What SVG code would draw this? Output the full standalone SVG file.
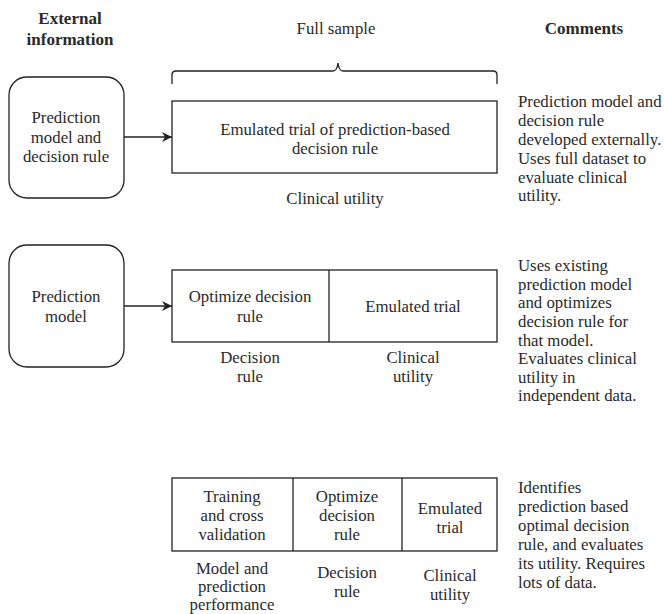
<svg xmlns="http://www.w3.org/2000/svg" width="664" height="614" viewBox="0 0 664 614">
<defs>
<marker id="arr" viewBox="0 0 10 10" refX="10" refY="5" markerWidth="10" markerHeight="10" markerUnits="userSpaceOnUse" orient="auto">
<path d="M0,0 L10,5 L0,10 L3,5 z" fill="#222"/>
</marker>
<style>
.c{text-anchor:middle}
.b{font-weight:bold}
.box{fill:#fff;stroke:#222;stroke-width:1.3}
.ln{fill:none;stroke:#222;stroke-width:1.3}
</style>
</defs>
<rect width="664" height="614" fill="#fff"/>
<g id="headers" font-family="Liberation Serif, serif" font-size="16.8" fill="#2a2a2a">
<text class="c b" x="70" y="24" font-size="17">External</text>
<text class="c b" x="70" y="45" font-size="17">information</text>
<text class="c" x="336" y="34">Full sample</text>
<text class="c b" x="584" y="34" font-size="17">Comments</text>
</g>
<g id="brace">
<path class="ln" d="M172,84 V75 Q172,71 176,71 H333 Q337,71 338,63 Q339,71 343,71 H493 Q497,71 497,75 V84"/>
</g>
<g id="ext1" font-family="Liberation Serif, serif" font-size="16.8" fill="#2a2a2a">
<rect class="box" x="9" y="77" width="115" height="121" rx="18"/>
<text class="c" x="66" y="123">Prediction</text>
<text class="c" x="66" y="143">model and</text>
<text class="c" x="66" y="162">decision rule</text>
</g>
<g id="trial1" font-family="Liberation Serif, serif" font-size="16.8" fill="#2a2a2a">
<rect class="box" x="172" y="101" width="325" height="72"/>
<text class="c" x="335" y="135">Emulated trial of prediction-based</text>
<text class="c" x="335" y="154">decision rule</text>
<text class="c" x="335" y="204">Clinical utility</text>
</g>
<g id="comment1" font-family="Liberation Serif, serif" font-size="16.8" fill="#2a2a2a">
<text x="518" y="107">Prediction model and</text>
<text x="518" y="126">decision rule</text>
<text x="518" y="145">developed externally.</text>
<text x="518" y="164">Uses full dataset to</text>
<text x="518" y="183">evaluate clinical</text>
<text x="518" y="201">utility.</text>
</g>
<g id="ext2" font-family="Liberation Serif, serif" font-size="16.8" fill="#2a2a2a">
<rect class="box" x="9" y="245" width="115" height="122" rx="18"/>
<text class="c" x="66" y="302">Prediction</text>
<text class="c" x="66" y="322">model</text>
</g>
<g id="row2" font-family="Liberation Serif, serif" font-size="16.8" fill="#2a2a2a">
<rect class="box" x="172" y="270" width="325" height="72"/>
<line class="ln" x1="329" y1="270" x2="329" y2="342"/>
<text class="c" x="250" y="302">Optimize decision</text>
<text class="c" x="250" y="322">rule</text>
<text class="c" x="413" y="312">Emulated trial</text>
<text class="c" x="250" y="363">Decision</text>
<text class="c" x="250" y="382">rule</text>
<text class="c" x="413" y="363">Clinical</text>
<text class="c" x="413" y="382">utility</text>
</g>
<g id="comment2" font-family="Liberation Serif, serif" font-size="16.8" fill="#2a2a2a">
<text x="518" y="271">Uses existing</text>
<text x="518" y="290">prediction model</text>
<text x="518" y="308">and optimizes</text>
<text x="518" y="327">decision rule for</text>
<text x="518" y="346">that model.</text>
<text x="518" y="364">Evaluates clinical</text>
<text x="518" y="383">utility in</text>
<text x="518" y="401">independent data.</text>
</g>
<g id="row3" font-family="Liberation Serif, serif" font-size="16.8" fill="#2a2a2a">
<rect class="box" x="172" y="478" width="325" height="73"/>
<line class="ln" x1="293" y1="478" x2="293" y2="551"/>
<line class="ln" x1="402" y1="478" x2="402" y2="551"/>
<text class="c" x="232" y="502">Training</text>
<text class="c" x="232" y="521">and cross</text>
<text class="c" x="232" y="540">validation</text>
<text class="c" x="347" y="502">Optimize</text>
<text class="c" x="347" y="521">decision</text>
<text class="c" x="347" y="540">rule</text>
<text class="c" x="450" y="514">Emulated</text>
<text class="c" x="450" y="533">trial</text>
<text class="c" x="232" y="574">Model and</text>
<text class="c" x="232" y="592">prediction</text>
<text class="c" x="232" y="610">performance</text>
<text class="c" x="347" y="578">Decision</text>
<text class="c" x="347" y="597">rule</text>
<text class="c" x="450" y="581">Clinical</text>
<text class="c" x="450" y="600">utility</text>
</g>
<g id="comment3" font-family="Liberation Serif, serif" font-size="16.8" fill="#2a2a2a">
<text x="518" y="493">Identifies</text>
<text x="518" y="512">prediction based</text>
<text x="518" y="531">optimal decision</text>
<text x="518" y="550">rule, and evaluates</text>
<text x="518" y="569">its utility. Requires</text>
<text x="518" y="588">lots of data.</text>
</g>
<g id="connectors">
<line class="ln" x1="124" y1="137" x2="172" y2="137" marker-end="url(#arr)"/>
<line class="ln" x1="124" y1="306" x2="172" y2="306" marker-end="url(#arr)"/>
</g>
</svg>
